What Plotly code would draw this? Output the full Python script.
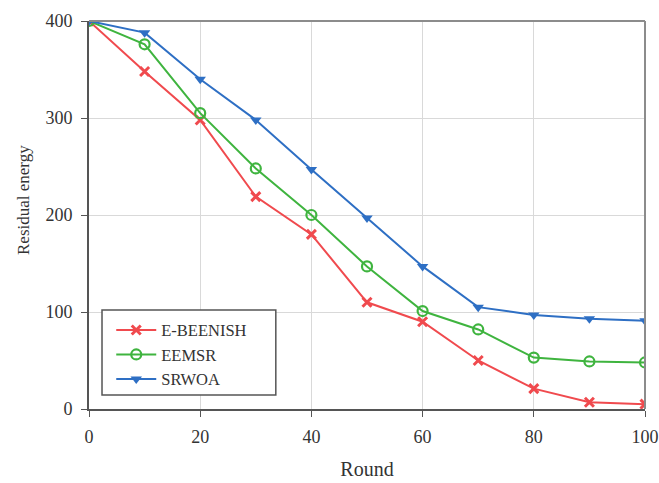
import plotly.graph_objects as go

rounds = [0, 10, 20, 30, 40, 50, 60, 70, 80, 90, 100]
e_beenish = [400, 348, 298, 219, 180, 110, 90, 50, 21, 7, 5]
eemsr = [400, 376, 305, 248, 200, 147, 101, 82, 53, 49, 48]
srwoa = [400, 388, 340, 298, 247, 197, 147, 105, 97, 93, 91]

fig = go.Figure()
fig.add_trace(go.Scatter(x=rounds, y=e_beenish, name="E-BEENISH", mode="lines+markers",
                         line=dict(color="#f04a4e", width=2),
                         marker=dict(symbol="x-thin", size=9, line=dict(color="#f04a4e", width=3))))
fig.add_trace(go.Scatter(x=rounds, y=eemsr, name="EEMSR", mode="lines+markers",
                         line=dict(color="#3fb43f", width=2),
                         marker=dict(symbol="circle-open", size=10, line=dict(color="#3fb43f", width=2.2))))
fig.add_trace(go.Scatter(x=rounds, y=srwoa, name="SRWOA", mode="lines+markers",
                         line=dict(color="#2e6fc4", width=2),
                         marker=dict(symbol="triangle-down", size=10, color="#2e6fc4")))

font = "Liberation Serif, Times New Roman, serif"
fig.update_layout(
    width=659, height=483,
    margin=dict(l=89, r=14, t=21, b=74),
    paper_bgcolor="white", plot_bgcolor="white",
    font=dict(family=font, size=18, color="#333333"),
    showlegend=True,
    legend=dict(x=0.04, y=0.248, xanchor="left", yanchor="top",
                borderwidth=0, bgcolor="rgba(0,0,0,0)",
                font=dict(family=font, size=16.5, color="#333333"),
                tracegroupgap=0, itemwidth=40),
    xaxis=dict(range=[0, 100], tickvals=[0, 20, 40, 60, 80, 100], automargin=False,
               showgrid=True, gridcolor="#d9d9d9", gridwidth=1,
               showline=True, linecolor="#555555", linewidth=2, mirror=False,
               ticks="outside", ticklen=6, tickcolor="#555555", ticklabelstandoff=4,
               tickfont=dict(family=font, size=18, color="#333333"),
               zeroline=False,
               title=dict(text="Round", font=dict(family=font, size=20, color="#333333"), standoff=16)),
    yaxis=dict(range=[0, 400], tickvals=[0, 100, 200, 300, 400], automargin=False,
               showgrid=True, gridcolor="#d9d9d9", gridwidth=1,
               showline=True, linecolor="#555555", linewidth=2,
               ticks="outside", ticklen=6, tickcolor="#555555", ticklabelstandoff=5,
               tickfont=dict(family=font, size=18, color="#333333"),
               zeroline=False),
)
fig.add_annotation(text="Residual energy", xref="paper", yref="paper",
                   x=(23 - 89) / 556, y=(409 - 200) / 388, xanchor="center", yanchor="middle",
                   textangle=-90, showarrow=False,
                   font=dict(family=font, size=17, color="#333333"))
# top and right frame lines
fig.add_shape(type="line", xref="paper", yref="paper", x0=0, x1=1, y0=1, y1=1,
              line=dict(color="#8c8c8c", width=2))
fig.add_shape(type="line", xref="paper", yref="paper", x0=1, x1=1, y0=0, y1=1,
              line=dict(color="#8c8c8c", width=2))
# legend frame
fig.add_shape(type="rect", xref="paper", yref="paper", x0=0.0234, x1=0.336, y0=0.036, y1=0.255,
              line=dict(color="#555555", width=1.5), fillcolor="white", layer="above")

fig.write_html("out.html")
